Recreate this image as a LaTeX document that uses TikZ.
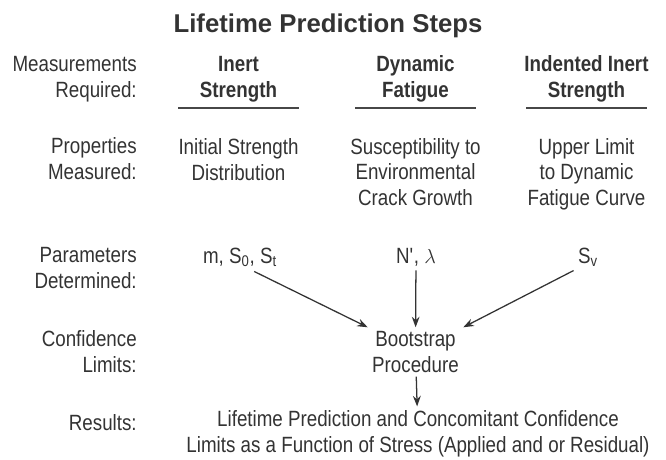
\documentclass[tikz,border=0pt]{standalone}
\usepackage{fontspec}
\setmainfont{Liberation Sans}[FakeStretch=0.85]
\newfontfamily\titlefont{Liberation Sans}
\usetikzlibrary{positioning,arrows.meta}
\definecolor{inkgray}{HTML}{333333}

\begin{document}
\begin{tikzpicture}[x=0.025cm, y=-0.025cm,
    every node/.style={text=inkgray, inner sep=3pt},
    txt/.style={font=\fontsize{15.7}{17.8}\selectfont, align=center, anchor=base},
    rowlabel/.style={font=\fontsize{15.7}{17.8}\selectfont, align=right, anchor=base east, inner sep=0pt},
    head/.style={txt, font=\fontsize{15.7}{17.8}\selectfont\bfseries},
    rule/.style={draw=inkgray!90, line width=1.5pt},
    arrow/.style={->, >={Stealth[length=7.5pt,width=5.5pt]}, draw=inkgray, line width=0.9pt}
]
    \useasboundingbox (0,0) rectangle (666,460);
    \node[anchor=base, font=\titlefont\fontsize{18.3}{22}\selectfont\bfseries] (title) at (328,32) {Lifetime Prediction Steps};

    % row labels (anchored on the last line)
    \node[rowlabel] (meas) at (137,97) {Measurements\\Required:};
    \node[rowlabel] (props) at (137,179) {Properties\\Measured:};
    \node[rowlabel] (params) at (137,288) {Parameters\\Determined:};
    \node[rowlabel] (conf) at (137,372) {Confidence\\Limits:};
    \node[rowlabel] (res) at (137,430) {Results:};

    % measurements
    \node[head] (inert) at (238.5,97) {Inert\\Strength};
    \node[head] (dyn) at (415.5,97) {Dynamic\\Fatigue};
    \node[head] (indent) at (586.5,97) {Indented Inert\\Strength};
    \foreach \cx in {238.5,415.5,586.5}
        \draw[rule] (\cx-60.5,108) -- (\cx+60.5,108);

    % properties
    \node[txt] (initial) at (238.5,180) {Initial Strength\\Distribution};
    \node[txt] (suscept) at (415.5,205) {Susceptibility to\\Environmental\\Crack Growth};
    \node[txt] (upper) at (586.5,205) {Upper Limit\\to Dynamic\\Fatigue Curve};

    % parameters
    \node[txt] (mS) at (240,263) {m, S\textsubscript{0}, S\textsubscript{t}};
    \node[txt] (Nl) at (416,263) {N\textquotesingle, $\lambda$};
    \node[txt] (Sv) at (588,263) {S\textsubscript{v}};

    \node[txt] (boot) at (415.5,372) {Bootstrap\\Procedure};
    \node[txt] (life) at (418,452) {Lifetime Prediction and Concomitant Confidence\\Limits as a Function of Stress (Applied and or Residual)};

    \draw[arrow] (mS.-45) -- (boot.north west);
    \draw[arrow] (Nl) -- (boot);
    \draw[arrow] (Sv.south west) -- (boot.north east);
    \draw[arrow] (boot) -- (life);
\end{tikzpicture}
\end{document}
